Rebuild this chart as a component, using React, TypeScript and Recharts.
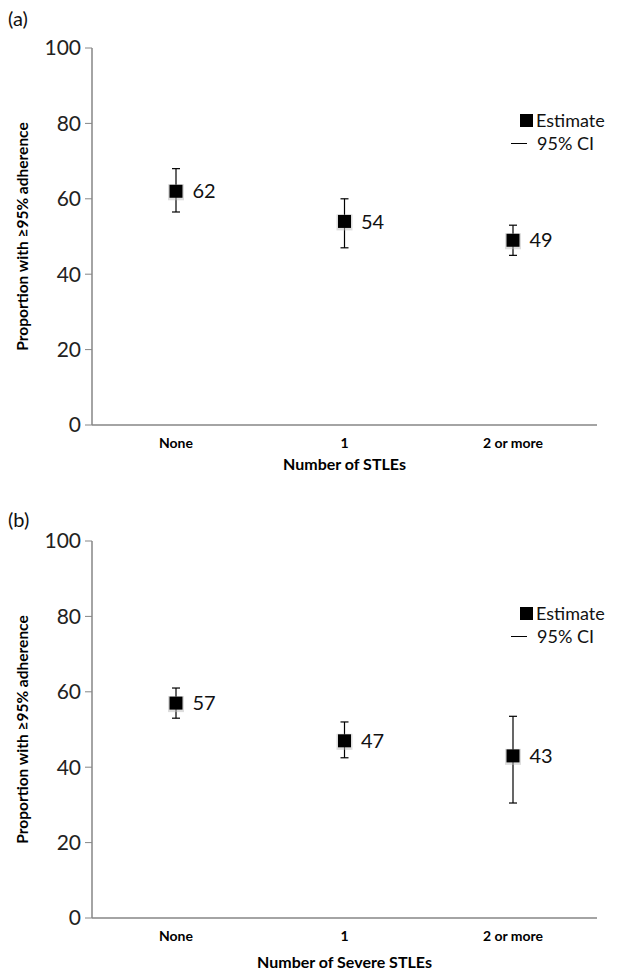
import React from 'react';
import {
  ComposedChart, Scatter, XAxis, YAxis, ErrorBar, LabelList, Label
} from 'recharts';

// categories and values
const categories = ['None', '1', '2 or more'];
const estA = [62, 54, 49];
const lowA = [56.5, 47, 45];
const highA = [68, 60, 53];
const estB = [57, 47, 43];
const lowB = [53, 42.5, 30.5];
const highB = [61, 52, 53.5];
const yTicks = [0, 20, 40, 60, 80, 100];

const FONT = 'Lato, "Open Sans", sans-serif';

const buildData = (est: number[], low: number[], high: number[]) =>
  categories.map((name, i) => ({
    name,
    est: est[i],
    err: [est[i] - low[i], high[i] - est[i]],
  }));

const SquareMarker = (props: any) => {
  const { cx, cy } = props;
  if (cx == null || cy == null) return null;
  return (
    <g>
      <rect x={cx - 8} y={cy - 7} width={16} height={16} fill="#bbb" opacity={0.5} />
      <rect x={cx - 6.5} y={cy - 6.5} width={13} height={13} fill="#000" />
    </g>
  );
};

interface PanelProps {
  tag: string;
  title: string;
  titleGap: number;
  data: ReturnType<typeof buildData>;
}

const Panel: React.FC<PanelProps> = ({ tag, title, titleGap, data }) => (
  <div style={{ position: 'relative', width: 623, height: 493 }}>
    <div style={{ position: 'absolute', left: 8, top: tag === '(a)' ? 6 : 14, fontFamily: FONT, fontSize: 20, color: '#111' }}>
      {tag}
    </div>
    <ComposedChart width={623} height={493} data={data} margin={{ top: 48, right: 26, left: 0, bottom: 8 }}>
      <XAxis
        dataKey="name"
        height={60}
        padding={{ left: 84, right: 84 }}
        axisLine={{ stroke: '#868686', strokeWidth: 1.5 }}
        tickLine={false}
        tickMargin={7}
        tick={{ fontFamily: FONT, fontSize: 14, fontWeight: 700, fill: '#000' }}
      >
        <Label
          content={({ viewBox }: any) => (
            <text
              x={viewBox.x + viewBox.width / 2}
              y={viewBox.y + titleGap}
              textAnchor="middle"
              fontFamily={FONT}
              fontSize={16}
              fontWeight={700}
              fill="#000"
            >
              {title}
            </text>
          )}
        />
      </XAxis>
      <YAxis
        width={92}
        domain={[0, 100]}
        ticks={yTicks}
        interval={0}
        axisLine={{ stroke: '#868686', strokeWidth: 1.5 }}
        tickLine={{ stroke: '#868686' }}
        tickSize={7}
        tickMargin={4}
        tick={{ fontFamily: FONT, fontSize: 21, fill: '#222' }}
      >
        <Label
          content={({ viewBox }: any) => {
            const cx = 22;
            const cy = viewBox.y + viewBox.height / 2;
            return (
              <text
                x={cx}
                y={cy}
                transform={`rotate(-90 ${cx} ${cy})`}
                textAnchor="middle"
                dominantBaseline="central"
                fontFamily={FONT}
                fontSize={15.5}
                fontWeight={700}
                fill="#000"
              >
                Proportion with ≥95% adherence
              </text>
            );
          }}
        />
      </YAxis>
      <Scatter dataKey="est" shape={SquareMarker} isAnimationActive={false}>
        <ErrorBar dataKey="err" direction="y" width={4} stroke="#000" strokeWidth={1.2} />
        <LabelList
          dataKey="est"
          position="right"
          offset={12}
          style={{ fontFamily: FONT, fontSize: 20, fill: '#111' }}
        />
      </Scatter>
    </ComposedChart>
    <div style={{ position: 'absolute', left: 520, top: 114, width: 13, height: 13, background: '#000' }} />
    <div style={{ position: 'absolute', left: 536, top: 109, fontFamily: FONT, fontSize: 18, color: '#111', lineHeight: '22px' }}>
      Estimate
    </div>
    <div style={{ position: 'absolute', left: 511, top: 143, width: 16, height: 1, background: '#000' }} />
    <div style={{ position: 'absolute', left: 537, top: 132, fontFamily: FONT, fontSize: 18, color: '#111', lineHeight: '22px' }}>
      95% CI
    </div>
  </div>
);

const App: React.FC = () => (
  <div style={{ position: 'absolute', left: 0, top: 0, width: 623, height: 979, background: '#fff' }}>
    <Panel tag="(a)" title="Number of STLEs" titleGap={45} data={buildData(estA, lowA, highA)} />
    <Panel tag="(b)" title="Number of Severe STLEs" titleGap={50} data={buildData(estB, lowB, highB)} />
  </div>
);

export default App;
